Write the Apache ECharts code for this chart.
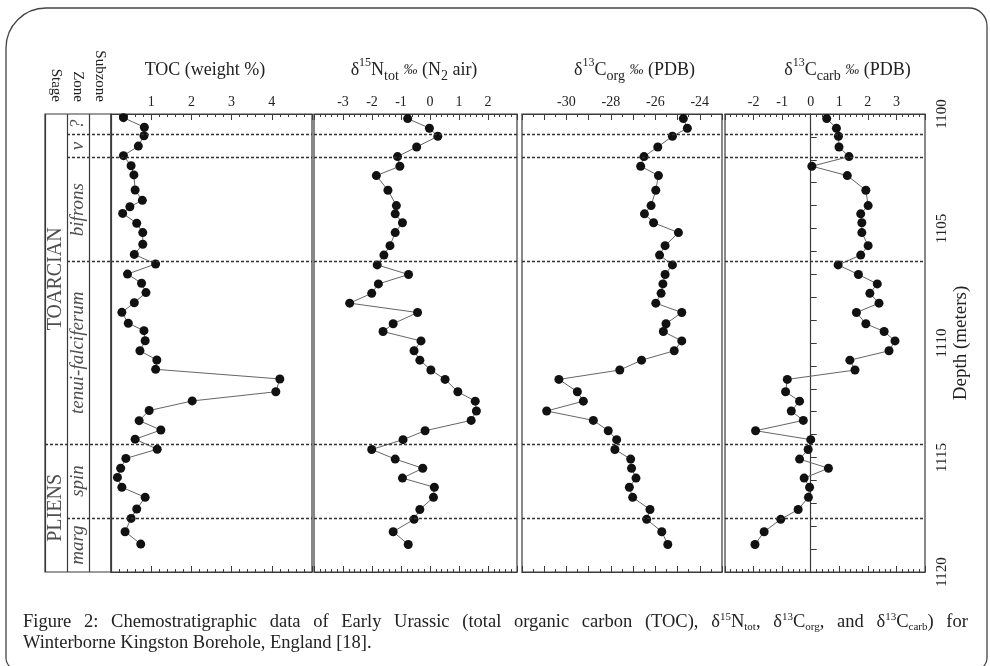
<!DOCTYPE html>
<html lang="en">
<head>
<meta charset="UTF-8">
<title>Chemostratigraphic data - Winterborne Kingston Borehole</title>
<script src="https://cdn.jsdelivr.net/npm/echarts@6/dist/echarts.min.js"></script>
<style>
  html, body { margin: 0; padding: 0; background: #fff; }
  #chart { width: 990px; height: 666px; }
</style>
</head>
<body>
<div id="chart"></div>
<script>
// depths (m) of the TOC samples
var depthToc = [1100.16, 1100.58, 1100.95, 1101.4, 1101.82, 1102.26, 1102.66, 1103.32, 1103.77, 1104.05,
    1104.34, 1104.77, 1105.18, 1105.69, 1106.13, 1106.55, 1106.99, 1107.39, 1107.8, 1108.24,
    1108.66, 1109.14, 1109.46, 1109.9, 1110.34, 1110.74, 1111.15, 1111.57, 1112.13, 1112.53,
    1112.95, 1113.39, 1113.8, 1114.2, 1114.64, 1115.04, 1115.47, 1115.87, 1116.3, 1116.74,
    1117.25, 1117.66, 1118.24, 1118.78];
var toc = [0.31, 0.83, 0.82, 0.68, 0.31, 0.50, 0.57, 0.60, 0.78, 0.47,
    0.29, 0.64, 0.79, 0.79, 0.58, 1.11, 0.41, 0.76, 0.87, 0.58,
    0.27, 0.43, 0.82, 0.85, 0.72, 1.14, 1.11, 4.20, 4.10, 2.02,
    0.95, 0.70, 1.24, 0.60, 1.15, 0.37, 0.24, 0.16, 0.27, 0.85,
    0.64, 0.50, 0.35, 0.74];

// depths (m) of the isotope samples
var depth = [1100.2, 1100.62, 1100.97, 1101.44, 1101.86, 1102.28, 1102.69, 1103.33, 1104.0, 1104.36,
    1104.75, 1105.18, 1105.75, 1106.16, 1106.59, 1107.01, 1107.42, 1107.83, 1108.26, 1108.67,
    1109.16, 1109.5, 1109.91, 1110.34, 1110.75, 1111.18, 1111.59, 1112.13, 1112.54, 1112.97,
    1113.38, 1113.83, 1114.22, 1114.65, 1115.07, 1115.47, 1115.9, 1116.3, 1116.74, 1117.27,
    1117.7, 1118.24, 1118.8];
var n15 = [-0.77, -0.02, 0.27, -0.46, -1.12, -1.04, -1.85, -1.45, -1.16, -1.20,
    -0.95, -1.20, -1.38, -1.59, -1.82, -0.74, -1.78, -2.01, -2.77, -0.43,
    -1.27, -1.62, -0.31, -0.55, -0.35, 0.03, 0.52, 0.96, 1.56, 1.60,
    1.42, -0.17, -0.93, -2.01, -1.20, -0.25, -0.95, 0.15, 0.12, -0.35,
    -0.55, -1.27, -0.75];
var c13org = [-24.74, -24.56, -25.23, -25.89, -26.51, -26.66, -25.86, -25.98, -26.19, -26.49,
    -26.08, -24.96, -25.56, -25.81, -25.23, -25.56, -25.66, -25.74, -25.98, -24.81,
    -25.52, -25.64, -24.81, -25.15, -26.62, -27.6, -30.34, -29.51, -29.24, -30.89,
    -28.79, -28.12, -27.74, -27.82, -27.11, -27.07, -26.87, -27.17, -27.02, -26.24,
    -26.39, -25.71, -25.44];
var c13carb = [0.56, 0.90, 0.97, 0.99, 1.34, 0.04, 1.28, 1.93, 2.01, 1.75,
    1.79, 1.79, 2.01, 1.75, 0.96, 1.67, 2.33, 2.07, 2.39, 1.60,
    1.93, 2.57, 2.95, 2.74, 1.37, 1.55, -0.82, -0.88, -0.39, -0.68,
    -0.26, -1.93, 0.0, -0.09, -0.39, 0.62, -0.23, -0.04, -0.08, -0.44,
    -1.05, -1.63, -1.95];

// stratigraphy
var stages = ['TOARCIAN', 'PLIENS'];
var stageBounds = [1100, 1114.4, 1120];
var zones = ['?', 'v', 'bifrons', 'tenui-falciferum', 'spin', 'marg'];
var zoneBounds = [1100, 1100.9, 1101.9, 1106.45, 1114.4, 1117.65, 1120];
var colHeads = ['Stage', 'Zone', 'Subzone'];

// tick labels
var tocTicks = [1, 2, 3, 4];
var nTicks = [-3, -2, -1, 0, 1, 2];
var orgTicks = [-30, -28, -26, -24];
var carbTicks = [-2, -1, 0, 1, 2, 3];
var depthTicks = [1100, 1105, 1110, 1115, 1120];

var serif = "'Liberation Serif', 'DejaVu Serif', serif";
var ink = '#222';
var frame = '#3a3a3a';

var supSub = {
    sup: {fontSize: 12, verticalAlign: 'top', lineHeight: 13, fontFamily: serif, color: ink},
    sub: {fontSize: 14, verticalAlign: 'bottom', lineHeight: 14, fontFamily: serif, color: ink},
    pm: {fontSize: 14, fontStyle: 'italic', fontFamily: serif, color: ink}
};

var panels = [
    {vals: toc, dep: depthToc, min: 0, max: 5, ticks: tocTicks, minor: 5, left: 111, width: 201,
        title: 'TOC (weight %)', pad: [0, 13, 0, 0]},
    {vals: n15, dep: depth, min: -4, max: 3, ticks: nTicks, minor: 5, left: 314, width: 203,
        title: 'δ{sup|15}N{sub|tot} {pm|‰} (N{sub|2} air)', pad: [0, 3, 0, 0]},
    {vals: c13org, dep: depth, min: -32, max: -23, ticks: orgTicks, minor: 2, left: 522, width: 200,
        title: 'δ{sup|13}C{sub|org} {pm|‰} (PDB)', pad: [0, 0, 0, 25]},
    {vals: c13carb, dep: depth, min: -3, max: 4, ticks: carbTicks, minor: 5, left: 725, width: 200,
        title: 'δ{sup|13}C{sub|carb} {pm|‰} (PDB)', pad: [0, 0, 0, 45]}
];

var dashed = {type: [3, 2], color: '#333', width: 1.4};

var grids = [], xAxes = [], yAxes = [], series = [];

panels.forEach(function (p, i) {
    grids.push({left: p.left, width: p.width, top: 114, height: 458,
        show: true, borderColor: frame, borderWidth: 1.2});
    var base = {
        gridIndex: i, type: 'value', min: p.min, max: p.max, interval: 1,
        axisLine: {lineStyle: {color: frame, width: 1.2}},
        axisTick: {inside: true, length: 6, lineStyle: {color: frame}},
        minorTick: {show: true, splitNumber: p.minor, length: 3, lineStyle: {color: frame}},
        splitLine: {show: false}
    };
    xAxes.push(Object.assign({}, base, {
        position: 'top',
        axisLabel: {
            margin: 5, fontFamily: serif, fontSize: 14, color: ink,
            formatter: function (v) { return p.ticks.indexOf(v) >= 0 ? String(v) : ''; }
        },
        name: p.title, nameLocation: 'middle', nameGap: 31,
        nameTextStyle: {fontFamily: serif, fontSize: 18, color: ink, lineHeight: 26,
            padding: p.pad, rich: supSub}
    }));
    xAxes.push(Object.assign({}, base, {position: 'bottom', axisLabel: {show: false}}));

    if (i === 3) {
        yAxes.push({
            gridIndex: i, type: 'value', inverse: true, min: 1100, max: 1120, interval: 1,
            position: 'right',
            axisLine: {show: true, lineStyle: {color: frame, width: 1.2}},
            axisTick: {show: true, length: 6, lineStyle: {color: frame}},
            splitLine: {show: false},
            axisLabel: {
                rotate: 90, margin: 10, fontFamily: serif, fontSize: 15, color: ink,
                formatter: function (v) { return depthTicks.indexOf(v) >= 0 ? String(v) : ''; }
            },
            name: 'Depth (meters)', nameLocation: 'middle', nameGap: 27, nameRotate: 90,
            nameTextStyle: {fontFamily: serif, fontSize: 19, color: ink}
        });
    } else {
        yAxes.push({gridIndex: i, type: 'value', inverse: true, min: 1100, max: 1120, show: false});
    }

    series.push({
        type: 'line', xAxisIndex: i * 2, yAxisIndex: i,
        data: p.vals.map(function (v, k) { return [v, p.dep[k]]; }),
        symbol: 'circle', symbolSize: 9, showSymbol: true,
        itemStyle: {color: '#111'},
        lineStyle: {color: '#666', width: 1},
        markLine: {
            silent: true, symbol: 'none', label: {show: false}, lineStyle: dashed,
            data: zoneBounds.slice(1, -1).map(function (d) { return {yAxis: d}; })
        },
        z: 3
    });
});

// stratigraphic column (grid 4)
grids.push({left: 45, width: 66, top: 114, height: 458, show: true, borderColor: frame, borderWidth: 1.2});
xAxes.push({
    gridIndex: 4, type: 'value', min: 0, max: 3, interval: 1, position: 'bottom',
    axisLine: {show: false}, axisTick: {show: false}, axisLabel: {show: false},
    splitLine: {show: true, lineStyle: {color: frame, width: 1.2}}
});
xAxes.push({
    gridIndex: 4, type: 'category', data: colHeads, position: 'top',
    axisLine: {show: false}, axisTick: {show: false},
    axisLabel: {rotate: 90, margin: 12, interval: 0, fontFamily: serif, fontSize: 15, color: ink}
});
yAxes.push({gridIndex: 4, type: 'value', inverse: true, min: 1100, max: 1120, show: false});

var colLabels = [];
stages.forEach(function (s, k) {
    colLabels.push({value: [0.5, (stageBounds[k] + stageBounds[k + 1]) / 2], name: s,
        label: {fontSize: 20}});
});
zones.forEach(function (s, k) {
    colLabels.push({value: [1.5, (zoneBounds[k] + zoneBounds[k + 1]) / 2], name: s,
        label: {fontSize: 19, fontStyle: 'italic'}});
});

series.push({
    type: 'scatter', xAxisIndex: 8, yAxisIndex: 4,
    symbolSize: 1, itemStyle: {color: 'rgba(0,0,0,0)'},
    label: {show: true, position: 'inside', formatter: '{b}', rotate: 90,
        fontFamily: serif, color: ink},
    data: colLabels,
    markLine: {
        silent: true, symbol: 'none', label: {show: false}, lineStyle: dashed,
        data: zoneBounds.slice(1, -1).map(function (d) {
            var x0 = stageBounds.indexOf(d) >= 0 ? 0 : 1;
            return [{coord: [x0, d]}, {coord: [3, d]}];
        })
    }
});

// caption: first line is justified in the source, so its word gaps are widened
var captionWords = ['Figure', '2:', 'Chemostratigraphic', 'data', 'of', 'Early', 'Urassic',
    '(total', 'organic', 'carbon', '(TOC),', 'δ{sup|15}N{sub|tot},', 'δ{sup|13}C{sub|org},',
    'and', 'δ{sup|13}C{sub|carb})', 'for'];
var caption = captionWords.join('{gap| }') + '\nWinterborne Kingston Borehole, England [18].';

var chart = echarts.init(document.getElementById('chart'));
chart.setOption({
    animation: false,
    backgroundColor: '#fff',
    title: {
        left: 18, top: 607, text: caption,
        textStyle: {
            fontFamily: serif, fontSize: 18.5, fontWeight: 'normal', color: ink, lineHeight: 21,
            rich: {
                sup: {fontSize: 11, verticalAlign: 'top', lineHeight: 13, fontFamily: serif, color: ink},
                sub: {fontSize: 11, verticalAlign: 'bottom', lineHeight: 12, fontFamily: serif, color: ink},
                gap: {width: 12.7, fontSize: 18.5, fontFamily: serif}
            }
        }
    },
    graphic: [{
        type: 'rect', silent: true, z: -1,
        shape: {x: 6, y: 8, width: 981, height: 662, r: [40, 18, 12, 12]},
        style: {fill: 'none', stroke: '#444', lineWidth: 1.3}
    }],
    grid: grids,
    xAxis: xAxes,
    yAxis: yAxes,
    series: series
});
</script>
</body>
</html>
